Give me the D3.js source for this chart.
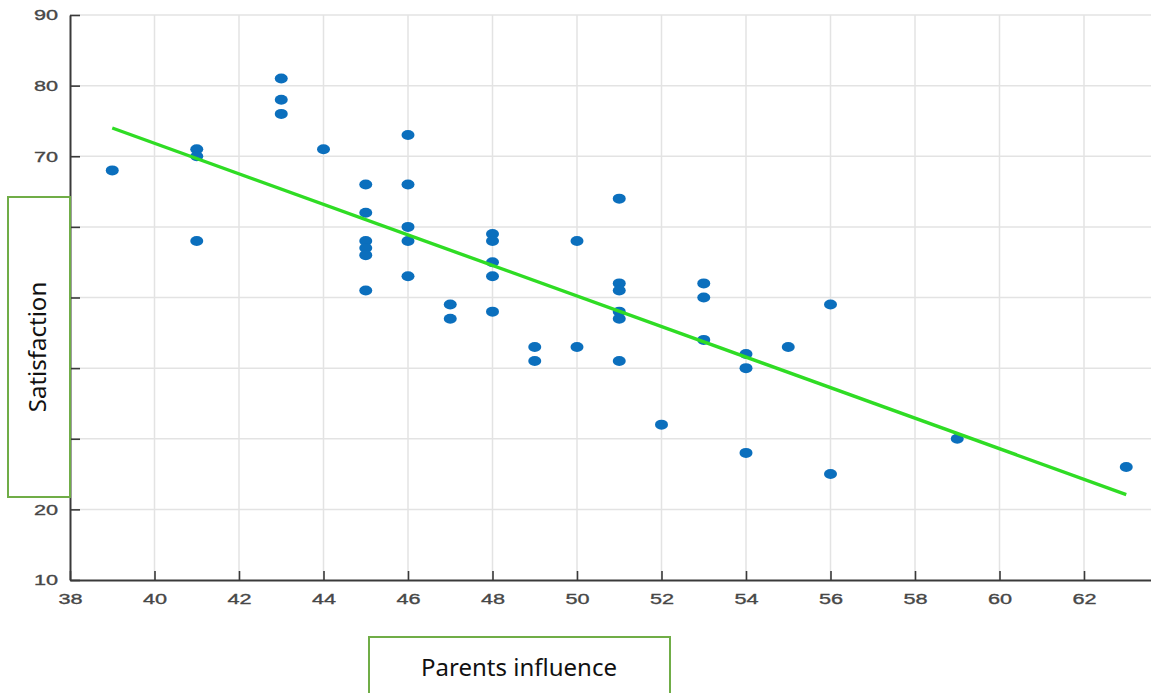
<!DOCTYPE html>
<meta charset="utf-8">
<style>
  body { margin: 0; background: #fff; }
  svg { display: block; }
</style>

<!-- Load d3.js -->
<script src="https://d3js.org/d3.v7.min.js"></script>

<div id="chart"></div>

<script>
// Data: parents influence (x) vs satisfaction (y)
const influence = [39, 41, 41, 41, 43, 43, 43, 44,
                   45, 45, 45, 45, 45, 45,
                   46, 46, 46, 46, 46,
                   47, 47,
                   48, 48, 48, 48, 48,
                   49, 49, 50, 50,
                   51, 51, 51, 51, 51, 51,
                   52, 53, 53, 53, 54, 54, 54, 55, 56, 56, 59, 63];
const satisfaction = [68, 71, 70, 58, 81, 78, 76, 71,
                      66, 62, 58, 57, 56, 51,
                      73, 66, 60, 58, 53,
                      49, 47,
                      59, 58, 55, 53, 48,
                      43, 41, 58, 43,
                      64, 52, 51, 48, 47, 41,
                      32, 52, 50, 44, 42, 40, 28, 43, 49, 25, 30, 26];

// Fitted line end points
const fitX = [39, 63];
const fitY = [74.0, 22.1];

const xTicks = [38, 40, 42, 44, 46, 48, 50, 52, 54, 56, 58, 60, 62];
const yTicks = [10, 20, 30, 40, 50, 60, 70, 80, 90];

const W = 1151, H = 693;

const svg = d3.select("#chart")
  .append("svg")
  .attr("width", W)
  .attr("height", H);

// Scales
const x = d3.scaleLinear().domain([38, 64]).range([70, 1168.5]);
const y = d3.scaleLinear().domain([10, 90]).range([580, 15]);

// Grid
const grid = svg.append("g").attr("stroke", "#e3e3e3").attr("stroke-width", 1.5);
grid.selectAll(".vx")
  .data(xTicks.slice(1))
  .join("line")
    .attr("x1", d => x(d)).attr("x2", d => x(d))
    .attr("y1", y(90)).attr("y2", y(10));
grid.selectAll(".hy")
  .data(yTicks.slice(1))
  .join("line")
    .attr("x1", x(38)).attr("x2", W)
    .attr("y1", d => y(d)).attr("y2", d => y(d));

// Axes (MATLAB-like inward ticks)
const xAxis = svg.append("g")
  .attr("transform", `translate(0, ${y(10)})`)
  .call(d3.axisBottom(x).tickValues(xTicks).tickSizeInner(-9).tickSizeOuter(0).tickPadding(13));

const yAxis = svg.append("g")
  .attr("transform", `translate(${x(38)}, 0)`)
  .call(d3.axisLeft(y).tickValues(yTicks).tickSizeInner(-10).tickSizeOuter(0).tickPadding(12));

// the source picture is a little stretched sideways, so widen the digits too
const stretch = 1.4;
[xAxis, yAxis].forEach(a => {
  a.select(".domain").attr("stroke", "#3a3a3a").attr("stroke-width", 2);
  a.selectAll(".tick line").attr("stroke", "#3a3a3a").attr("stroke-width", 1.6);
  a.selectAll(".tick text")
    .attr("fill", "#474747")
    .attr("stroke", "#474747")
    .attr("stroke-width", 0.35)
    .attr("transform", `scale(${stretch},1)`)
    .style("font-family", "'Liberation Sans', Arial, sans-serif")
    .style("font-size", "15.5px");
});
yAxis.selectAll(".tick text").attr("x", -12 / stretch);

// Points
svg.append("g")
  .selectAll("ellipse")
  .data(influence.map((d, i) => ({x: d, y: satisfaction[i]})))
  .join("ellipse")
    .attr("cx", d => x(d.x))
    .attr("cy", d => y(d.y))
    .attr("rx", 6.5)
    .attr("ry", 5)
    .attr("fill", "#0b6fbd");

// Fitted line
svg.append("path")
  .datum(fitX.map((d, i) => [d, fitY[i]]))
  .attr("d", d3.line().x(d => x(d[0])).y(d => y(d[1])))
  .attr("fill", "none")
  .attr("stroke", "#2fdc24")
  .attr("stroke-width", 3.4);

// Label boxes
const labelFont = "'Noto Sans', 'Open Sans', sans-serif";

svg.append("rect")
  .attr("x", 8).attr("y", 197)
  .attr("width", 62).attr("height", 300)
  .attr("fill", "#fff")
  .attr("stroke", "#70ad47")
  .attr("stroke-width", 2);

svg.append("text")
  .attr("transform", "translate(46, 347) rotate(-90)")
  .attr("text-anchor", "middle")
  .style("font-family", labelFont)
  .style("font-size", "24px")
  .attr("fill", "#111")
  .text("Satisfaction");

svg.append("rect")
  .attr("x", 369).attr("y", 637)
  .attr("width", 301).attr("height", 70)
  .attr("fill", "#fff")
  .attr("stroke", "#70ad47")
  .attr("stroke-width", 2);

svg.append("text")
  .attr("x", 519)
  .attr("y", 676)
  .attr("text-anchor", "middle")
  .style("font-family", labelFont)
  .style("font-size", "24px")
  .attr("fill", "#111")
  .text("Parents influence");
</script>
